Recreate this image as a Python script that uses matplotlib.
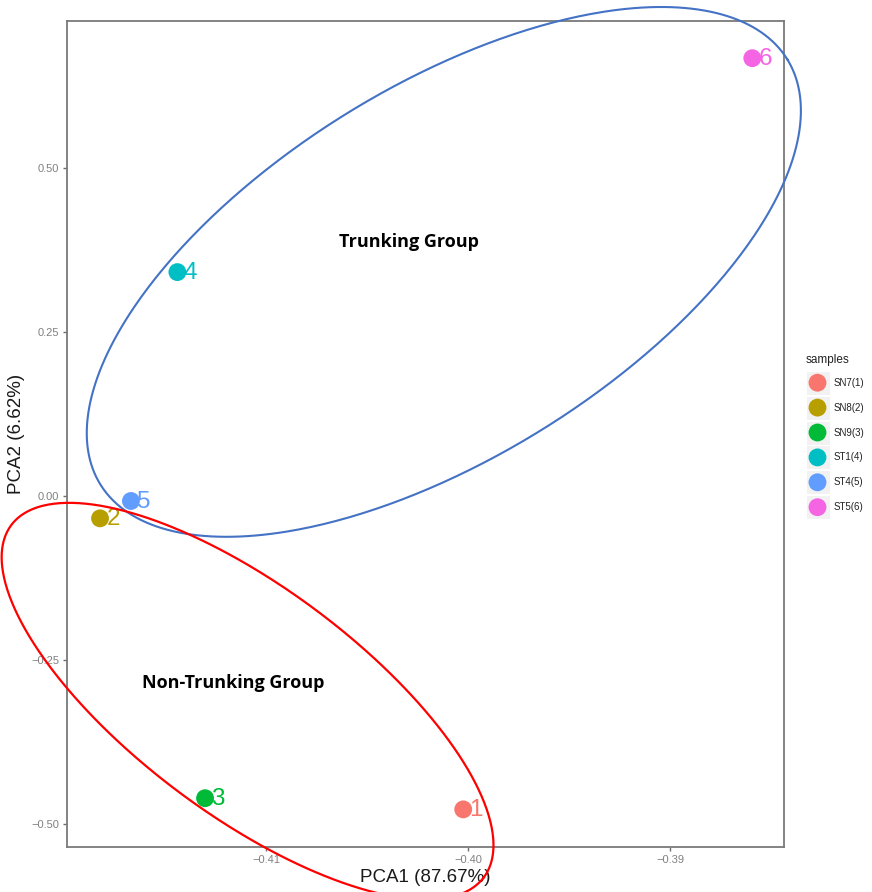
import numpy as np
import matplotlib
matplotlib.use("Agg")
import matplotlib.pyplot as plt

# ---- data ----
samples = ["SN7(1)", "SN8(2)", "SN9(3)", "ST1(4)", "ST4(5)", "ST5(6)"]
point_labels = ["1", "2", "3", "4", "5", "6"]
pca1 = [-0.40024, -0.41822, -0.41302, -0.41439, -0.41669, -0.38593]
pca2 = [-0.477, -0.034, -0.460, 0.3408, -0.0076, 0.6664]
colors = ["#F8766D", "#B79F00", "#00BA38", "#00BFC4", "#619CFF", "#F564E3"]

xticks = [-0.41, -0.40, -0.39]
xticklabels = ["\u22120.41", "\u22120.40", "\u22120.39"]
yticks = [-0.50, -0.25, 0.00, 0.25, 0.50]
yticklabels = ["\u22120.50", "\u22120.25", "0.00", "0.25", "0.50"]

# group ellipses: centre, major-axis vector, minor-axis vector (data units)
trunk_center = (-0.40120, 0.3411)
trunk_major = (0.017000, 0.3237)
trunk_minor = (-0.004844, 0.2404)
nontrunk_center = (-0.410916, -0.3123)
nontrunk_major = (0.011698, -0.2680)
nontrunk_minor = (0.003370, 0.1390)
group_names = ["Trunking Group", "Non-Trunking Group"]
group_text_pos = [(-0.40292, 0.3866), (-0.41163, -0.2846)]

W, H = 872, 892
fig = plt.figure(figsize=(W / 100, H / 100), dpi=100)
ax = fig.add_axes([67.3 / W, 1 - 846.7 / H, (784 - 67.3) / W, (846.7 - 21) / H])
ax.set_xlim(-0.41984, -0.38436)
ax.set_ylim(-0.5338, 0.723)

frame_col = "#7a7a7a"
for sp in ax.spines.values():
    sp.set_color(frame_col)
    sp.set_linewidth(1.3)

ax.set_xticks(xticks)
ax.set_xticklabels(xticklabels)
ax.set_yticks(yticks)
ax.set_yticklabels(yticklabels)
ax.tick_params(colors="#6e6e6e", labelcolor="#808080", labelsize=8, length=3, width=1.0, pad=3)
for lab in ax.get_xticklabels() + ax.get_yticklabels():
    lab.set_family("Liberation Sans")

ax.set_xlabel("PCA1 (87.67%)", fontsize=13.5, family="Liberation Sans", color="#1a1a1a", labelpad=3)
ax.set_ylabel("PCA2 (6.62%)", fontsize=13.5, family="Liberation Sans", color="#1a1a1a", labelpad=4)

# points and labels
for x, y, c, t in zip(pca1, pca2, colors, point_labels):
    ax.scatter([x], [y], s=165, color=c, edgecolors="none", zorder=3)
    ax.annotate(t, (x, y), xytext=(4.5, -0.5), textcoords="offset points",
                ha="left", va="center", fontsize=17.5, color=c,
                family="Liberation Sans", zorder=3)

# ellipses
tt = np.linspace(0, 2 * np.pi, 500)
def draw_ell(center, major, minor, color, lw):
    ex = center[0] + np.cos(tt) * major[0] + np.sin(tt) * minor[0]
    ey = center[1] + np.cos(tt) * major[1] + np.sin(tt) * minor[1]
    ax.plot(ex, ey, color=color, lw=lw, clip_on=False, zorder=4)

draw_ell(trunk_center, trunk_major, trunk_minor, "#4472C4", 1.5)
draw_ell(nontrunk_center, nontrunk_major, nontrunk_minor, "#FF0000", 1.6)

for name, (gx, gy) in zip(group_names, group_text_pos):
    ax.text(gx, gy, name, ha="center", va="center", fontsize=13,
            fontweight="bold", family="Open Sans", color="black")

# legend (manual, ggplot style)
lax = fig.add_axes([798 / W, 1 - 522 / H, 74 / W, 172 / H])
lax.set_xlim(798, 872)
lax.set_ylim(522, 350)
lax.axis("off")
lax.text(806, 360.5, "samples", fontsize=8.5, family="Liberation Sans",
         color="#222222", ha="left", va="center")
key_y0, key_dy = 382.7, 24.9
for i, (name, c) in enumerate(zip(samples, colors)):
    ky = key_y0 + i * key_dy
    lax.add_patch(plt.Rectangle((805.5, ky - 12), 24, 24, facecolor="#f2f2f2",
                                edgecolor="white", lw=0.8))
    lax.scatter([817.5], [ky], s=165, color=c, edgecolors="none")
    lax.text(833.5, ky, name, fontsize=7, family="Liberation Sans",
             color="#222222", ha="left", va="center")

fig.savefig("out.png", dpi=100)
